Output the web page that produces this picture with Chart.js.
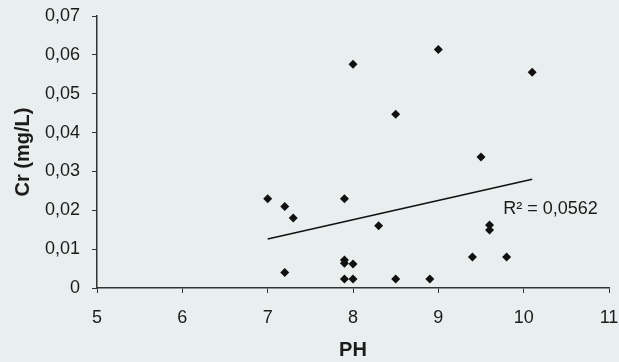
<!DOCTYPE html>
<html>
<head>
<meta charset="utf-8">
<script src="https://cdn.jsdelivr.net/npm/chart.js@4/dist/chart.umd.min.js"></script>
<style>
    html, body { margin: 0; padding: 0; background: #e9eeee; }
    #wrap { width: 619px; height: 362px; }
</style>
</head>
<body>
<div id="wrap"><canvas id="crChart"></canvas></div>
<script>
// ---------- DATA ----------
const phValues = [7.0, 7.2, 7.3, 7.2, 7.9, 7.9, 7.9, 8.0, 7.9, 8.0, 8.0, 8.3, 8.5, 8.5, 8.9, 9.0, 9.4, 9.5, 9.6, 9.6, 9.8, 10.1];
const crValues = [0.023, 0.021, 0.018, 0.004, 0.023, 0.0072, 0.0064, 0.0062, 0.0023, 0.0023, 0.0576, 0.016, 0.0447, 0.0023, 0.0023, 0.0614, 0.008, 0.0337, 0.0162, 0.0149, 0.008, 0.0555];
const trendPH = [7.0, 10.1];
const trendCr = [0.0126, 0.028];
const xTicks = [5, 6, 7, 8, 9, 10, 11];
const yTicks = [0, 0.01, 0.02, 0.03, 0.04, 0.05, 0.06, 0.07];
const r2Label = "R² = 0,0562";

const FONT = "'Liberation Sans', Arial, sans-serif";
const INK = "#1b1b1b";

// ---------- R² LABEL ----------
const r2Plugin = {
    id: "r2Label",
    afterDatasetsDraw(chart) {
        const { ctx, scales } = chart;
        ctx.save();
        ctx.font = "18px " + FONT;
        ctx.fillStyle = INK;
        ctx.textBaseline = "middle";
        ctx.fillText(r2Label, scales.x.getPixelForValue(9.76), scales.y.getPixelForValue(0.0203));
        ctx.restore();
    }
};

// ---------- SCATTER CHART ----------
new Chart(document.getElementById("crChart"), {
    type: "scatter",
    data: {
        datasets: [{
            data: phValues.map((x, i) => ({ x: x, y: crValues[i] })),
            pointStyle: "rectRot",
            pointRadius: 4.5,
            backgroundColor: "#111",
            borderColor: "#111",
            borderWidth: 0
        }, {
            type: "line",
            data: trendPH.map((x, i) => ({ x: x, y: trendCr[i] })),
            borderColor: "#111",
            borderWidth: 1.6,
            pointRadius: 0,
            fill: false
        }]
    },
    options: {
        responsive: true,
        maintainAspectRatio: false,
        animation: false,
        layout: { padding: { top: 16, right: 10, bottom: 0, left: 0 } },
        plugins: {
            legend: { display: false },
            tooltip: { enabled: false }
        },
        scales: {
            x: {
                type: "linear",
                min: 5,
                max: 11,
                afterFit: s => { s.height = 74; s.paddingLeft = 0; s.paddingRight = 0; },
                afterBuildTicks: s => { s.ticks = xTicks.map(v => ({ value: v })); },
                border: { color: "#333", width: 1.5 },
                grid: { drawOnChartArea: false, drawTicks: true, tickLength: 5, color: "#333" },
                ticks: { color: INK, padding: 14, font: { family: FONT, size: 18 } },
                title: {
                    display: true, text: "PH", color: INK,
                    padding: { top: 0, bottom: 0 },
                    font: { family: FONT, size: 20, weight: "bold" }
                }
            },
            y: {
                min: 0,
                max: 0.07,
                afterFit: s => { s.width = 97; s.paddingTop = 0; s.paddingBottom = 0; },
                afterBuildTicks: s => { s.ticks = yTicks.map(v => ({ value: v })); },
                border: { color: "#333", width: 1.5 },
                grid: { drawOnChartArea: false, drawTicks: true, tickLength: 5, color: "#333" },
                ticks: {
                    color: INK, padding: 12, font: { family: FONT, size: 18 },
                    callback: v => v === 0 ? "0" : v.toFixed(2).replace(".", ",")
                },
                title: {
                    display: true, text: "Cr (mg/L)", color: INK,
                    padding: { top: 11, bottom: 0 },
                    font: { family: FONT, size: 20, weight: "bold" }
                }
            }
        }
    },
    plugins: [r2Plugin]
});
</script>
</body>
</html>
